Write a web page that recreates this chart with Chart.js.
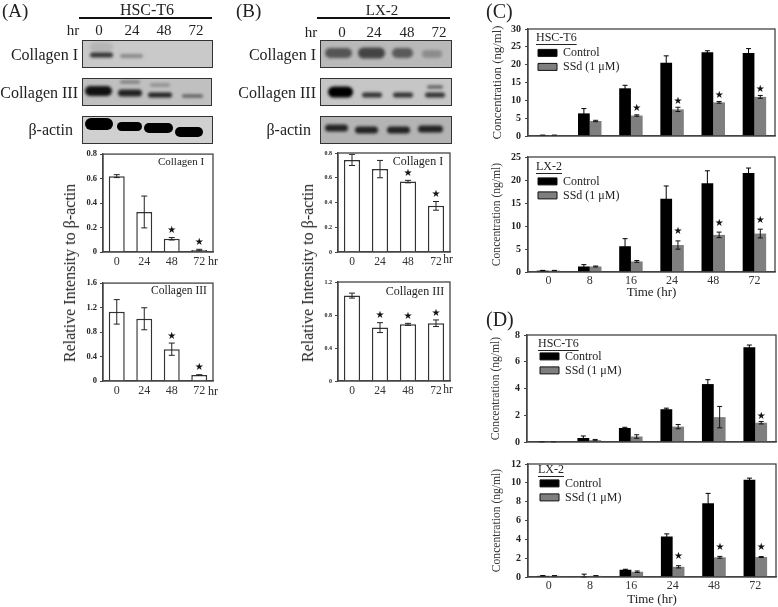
<!DOCTYPE html>
<html>
<head>
<meta charset="utf-8">
<title>Collagen blots and concentrations</title>
<script src="https://cdn.jsdelivr.net/npm/chart.js@4"></script>
<style>
  html, body { margin: 0; padding: 0; background: #fff; }
  #page { position: relative; width: 778px; height: 607px; overflow: hidden; filter: blur(0.45px); }
  #page canvas { position: absolute; }
  .txt { position: absolute; white-space: nowrap; font-family: "Liberation Serif", serif; color: #222; line-height: 1; }
</style>
</head>
<body>
<div id="page"></div>
<script>
// categories
const blotHours = ['0', '24', '48', '72'];
const timePoints = ['0', '8', '16', '24', '48', '72'];

// panel A, relative intensity
const aCol1 = [0.62, 0.327, 0.108, 0.016];
const aCol1Err = [0.012, 0.13, 0.01, 0.006];
const aCol1Star = [false, false, true, true];
const aCol3 = [1.13, 1.017, 0.52, 0.098];
const aCol3Err = [0.2, 0.18, 0.1, 0.004];
const aCol3Star = [false, false, true, true];

// panel B, relative intensity
const bCol1 = [0.744, 0.67, 0.569, 0.373];
const bCol1Err = [0.045, 0.07, 0.01, 0.035];
const bCol1Star = [false, false, true, true];
const bCol3 = [1.035, 0.647, 0.687, 0.70];
const bCol3Err = [0.03, 0.06, 0.012, 0.04];
const bCol3Star = [false, true, true, true];

// panel C, concentration
const cHscControl = [0.2, 6.34, 13.37, 20.57, 23.5, 23.3];
const cHscControlErr = [0.05, 1.35, 0.85, 1.9, 0.4, 1.2];
const cHscSsd = [0.2, 4.2, 5.74, 7.46, 9.43, 10.97];
const cHscSsdErr = [0.05, 0.2, 0.2, 0.6, 0.25, 0.4];
const cHscStar = [false, false, true, true, true, true];
const cLxControl = [0.3, 1.2, 5.6, 15.9, 19.3, 21.5];
const cLxControlErr = [0.05, 0.4, 1.65, 2.8, 2.7, 1.1];
const cLxSsd = [0.3, 1.2, 2.3, 5.86, 8.07, 8.36];
const cLxSsdErr = [0.05, 0.1, 0.2, 0.9, 0.6, 0.95];
const cLxStar = [false, false, false, true, true, true];

// panel D, concentration
const dHscControl = [0.02, 0.3, 1.05, 2.45, 4.33, 7.08];
const dHscControlErr = [0.01, 0.15, 0.05, 0.08, 0.33, 0.17];
const dHscSsd = [0.02, 0.14, 0.41, 1.15, 1.86, 1.44];
const dHscSsdErr = [0.01, 0.05, 0.13, 0.16, 0.8, 0.09];
const dHscStar = [false, false, false, false, false, true];
const dLxControl = [0.12, 0.05, 0.77, 4.3, 7.83, 10.33];
const dLxControlErr = [0.03, 0.25, 0.05, 0.28, 1.05, 0.17];
const dLxSsd = [0.12, 0.12, 0.56, 1.08, 2.09, 2.12];
const dLxSsdErr = [0.03, 0.03, 0.08, 0.12, 0.1, 0.05];
const dLxStar = [false, false, false, true, true, true];

const serif = '"Liberation Serif", serif';
const page = document.getElementById('page');

function addText(str, x, y, size, opts) {
  opts = opts || {};
  const el = document.createElement('div');
  el.className = 'txt';
  el.textContent = str;
  el.style.fontSize = size + 'px';
  el.style.left = x + 'px';
  el.style.top = y + 'px';
  if (opts.color) el.style.color = opts.color;
  const shift = opts.align === 'right' ? '-100%' : opts.align === 'left' ? '0' : '-50%';
  el.style.transform = 'translate(' + shift + ',-50%)' + (opts.rotate ? ' rotate(-90deg)' : '');
  page.appendChild(el);
}

// draws the error whiskers and the significance stars on top of the bars
const barExtras = {
  id: 'barExtras',
  afterDatasetsDraw(chart) {
    const ctx = chart.ctx;
    const y = chart.scales.y;
    chart.data.datasets.forEach((ds, d) => {
      const meta = chart.getDatasetMeta(d);
      meta.data.forEach((bar, i) => {
        const hi = y.getPixelForValue(ds.data[i] + ds.err[i]);
        const lo = y.getPixelForValue(Math.max(0, ds.data[i] - ds.err[i]));
        ctx.save();
        ctx.strokeStyle = ds.whisker;
        ctx.lineWidth = 1;
        ctx.beginPath();
        ctx.moveTo(bar.x, hi);
        ctx.lineTo(bar.x, lo);
        ctx.moveTo(bar.x - ds.cap, hi);
        ctx.lineTo(bar.x + ds.cap, hi);
        ctx.moveTo(bar.x - ds.cap, lo);
        ctx.lineTo(bar.x + ds.cap, lo);
        ctx.stroke();
        if (ds.star && ds.star[i]) {
          ctx.fillStyle = '#111';
          ctx.font = '10px "DejaVu Sans"';
          ctx.textAlign = 'center';
          ctx.textBaseline = 'middle';
          ctx.fillText('★', bar.x, hi - ds.starGap);
        }
        ctx.restore();
      });
    });
  }
};

// frame round the plot, and the legend moved to where the figure has it
const frame = {
  id: 'frame',
  afterLayout(chart) {
    const shift = chart.options.legendShift;
    if (shift) {
      chart.legend.left = chart.chartArea.left + shift[0];
      chart.legend.top = chart.chartArea.top + shift[1];
    }
  },
  afterDraw(chart) {
    const a = chart.chartArea;
    const ctx = chart.ctx;
    ctx.save();
    ctx.strokeStyle = '#444';
    ctx.lineWidth = 1.3;
    ctx.strokeRect(a.left, a.top, a.right - a.left, a.bottom - a.top);
    if (chart.options.legendShift) {
      const lg = chart.legend;
      const t = lg.options.title;
      ctx.font = t.font.size + 'px ' + serif;
      const w = ctx.measureText(t.text).width;
      const yy = lg.top + 12.5;
      ctx.strokeStyle = '#222';
      ctx.lineWidth = 1;
      ctx.beginPath();
      ctx.moveTo(lg.left, yy);
      ctx.lineTo(lg.left + w, yy);
      ctx.stroke();
    }
    ctx.restore();
  }
};

function fmtTick(v) {
  return String(+v.toFixed(1));
}

function plot(box, labels, datasets, cfg) {
  const padTop = 8, padRight = 4;
  const left = box.l - cfg.yWidth;
  const top = box.t - padTop;
  const width = box.r - left + padRight;
  const height = box.b - top + cfg.xHeight;
  const canvas = document.createElement('canvas');
  canvas.width = width;
  canvas.height = height;
  canvas.style.left = left + 'px';
  canvas.style.top = top + 'px';
  page.appendChild(canvas);

  const legend = cfg.legendTitle ? {
    display: true,
    position: 'chartArea',
    align: 'start',
    title: { display: true, position: 'start', text: cfg.legendTitle, color: '#222', font: { family: serif, size: 12 }, padding: { top: 0, bottom: cfg.titleGap } },
    labels: {
      color: '#222',
      font: { family: serif, size: 12 },
      boxWidth: 19,
      boxHeight: 7,
      padding: 2,
      generateLabels(chart) {
        return Chart.defaults.plugins.legend.labels.generateLabels(chart).map(item => {
          item.strokeStyle = '#111';
          item.lineWidth = 1;
          return item;
        });
      }
    }
  } : { display: false };

  if (cfg.starGap) datasets.forEach(ds => { ds.starGap = cfg.starGap; });

  return new Chart(canvas, {
    type: 'bar',
    data: { labels: labels, datasets: datasets },
    plugins: [barExtras, frame],
    options: {
      responsive: false,
      animation: false,
      events: [],
      legendShift: cfg.legendShift,
      layout: { padding: { top: padTop, right: padRight, left: 0, bottom: 0 } },
      plugins: { legend: legend, tooltip: { enabled: false } },
      scales: {
        x: {
          grid: { display: false, drawTicks: false },
          border: { color: '#444', width: 1.3 },
          afterFit(s) { s.height = cfg.xHeight; },
          ticks: { display: cfg.xTicks !== false, color: '#333', font: { family: serif, size: cfg.xFont }, padding: cfg.xPad, maxRotation: 0, autoSkip: false },
          title: cfg.xTitle ? { display: true, text: cfg.xTitle, color: '#222', font: { family: serif, size: 13 }, padding: { top: 0, bottom: 2 } } : { display: false }
        },
        y: {
          min: 0,
          max: cfg.max,
          afterFit(s) { s.width = cfg.yWidth; },
          grid: { drawOnChartArea: false, color: '#444', tickLength: 3 },
          border: { color: '#444', width: 1.3 },
          ticks: { stepSize: cfg.step, color: '#222', font: { family: serif, size: cfg.yFont, weight: 'bold' }, padding: cfg.yPad, callback: fmtTick },
          title: cfg.yTitle ? { display: true, text: cfg.yTitle, color: '#333', font: { family: serif, size: cfg.yTitleSize }, padding: 0 } : { display: false }
        }
      }
    }
  });
}

function whiteBars(values, err, star) {
  return [{
    label: 'Relative intensity',
    data: values, err: err, star: star,
    backgroundColor: '#fff',
    borderColor: '#333',
    borderWidth: 1.5,
    categoryPercentage: 1,
    barPercentage: 0.58,
    whisker: '#222', cap: 3, starGap: 7
  }];
}

function pairBars(control, controlErr, ssd, ssdErr, star) {
  return [{
    label: 'Control',
    data: control, err: controlErr,
    backgroundColor: '#000',
    borderWidth: 0,
    categoryPercentage: 0.57,
    barPercentage: 1,
    whisker: '#000', cap: 2.5, starGap: 9
  }, {
    label: 'SSd (1 μM)',
    data: ssd, err: ssdErr, star: star,
    backgroundColor: '#7f7f7f',
    borderWidth: 0,
    categoryPercentage: 0.57,
    barPercentage: 1,
    whisker: '#111', cap: 2.5, starGap: 9
  }];
}

const smallA = { yWidth: 30, xHeight: 20, xFont: 12, xPad: 3, yFont: 8.5, yPad: 3 };
const smallB = { yWidth: 30, xHeight: 20, xFont: 11.5, xPad: 3, yFont: 6, yPad: 3 };
const wide = { yWidth: 38, xFont: 12, xPad: 2, yFont: 10, yPad: 4, yTitle: 'Concentration (ng/ml)' };

plot({ l: 103, r: 213, t: 154, b: 252 }, blotHours, whiteBars(aCol1, aCol1Err, aCol1Star), { ...smallA, max: 0.8, step: 0.2 });
plot({ l: 103, r: 213, t: 283, b: 381 }, blotHours, whiteBars(aCol3, aCol3Err, aCol3Star), { ...smallA, max: 1.6, step: 0.4 });
plot({ l: 338, r: 450, t: 153, b: 252 }, blotHours, whiteBars(bCol1, bCol1Err, bCol1Star), { ...smallB, max: 0.8, step: 0.2 });
plot({ l: 338, r: 450, t: 282, b: 381 }, blotHours, whiteBars(bCol3, bCol3Err, bCol3Star), { ...smallB, max: 1.2, step: 0.4 });

plot({ l: 528, r: 775, t: 27, b: 144 }, timePoints, pairBars(cHscControl, cHscControlErr, cHscSsd, cHscSsdErr, cHscStar),
  { ...wide, xHeight: 2, xTicks: false, max: 30, step: 5, yTitleSize: 12.8, legendTitle: 'HSC-T6', legendShift: [8, 3], titleGap: -1.5, starGap: 6 });
plot({ l: 528, r: 775, t: 155, b: 272 }, timePoints, pairBars(cLxControl, cLxControlErr, cLxSsd, cLxSsdErr, cLxStar),
  { ...wide, xHeight: 30, xTitle: 'Time (hr)', max: 25, step: 5, yTitleSize: 11.6, legendTitle: 'LX-2', legendShift: [8, 4], titleGap: -2 });
plot({ l: 527, r: 776, t: 333, b: 450 }, timePoints, pairBars(dHscControl, dHscControlErr, dHscSsd, dHscSsdErr, dHscStar),
  { ...wide, xHeight: 2, xTicks: false, max: 8, step: 2, yTitleSize: 11.6, legendTitle: 'HSC-T6', legendShift: [11, 3], titleGap: -4, starGap: 5 });
plot({ l: 528, r: 776, t: 462, b: 577 }, timePoints, pairBars(dLxControl, dLxControlErr, dLxSsd, dLxSsdErr, dLxStar),
  { ...wide, xHeight: 32, xTitle: 'Time (hr)', max: 12, step: 2, yTitleSize: 11.6, legendTitle: 'LX-2', legendShift: [10, 0], titleGap: -3 });

// western blot strips, these are pictures and carry no chart values
const strips = [
  { x: 82, y: 40, w: 130, h: 27, bg: '#c9c9c9', bands: [[90, 113, 47, 10, '#b6b6b6'], [90, 113, 55, 5, '#333'], [120, 143, 56, 4, '#8a8a8a']] },
  { x: 82, y: 78, w: 129, h: 27, bg: '#c0c0c0', bands: [[85, 112, 91, 10, '#111'], [118, 142, 93, 7, '#222'], [120, 140, 82, 3, '#777'], [148, 172, 95, 5, '#222'], [150, 170, 85, 3, '#888'], [182, 203, 96, 3, '#555']] },
  { x: 82, y: 116, w: 130, h: 27, bg: '#d0d0d0', sharp: true, bands: [[85, 113, 124, 12, '#000'], [117, 142, 126.5, 9, '#000'], [144, 173, 128, 10, '#000'], [175, 203, 132, 10, '#000']] },
  { x: 320, y: 40, w: 131, h: 27, bg: '#b9b9b9', bands: [[325, 352, 53, 10, '#555'], [358, 385, 53, 11, '#444'], [392, 413, 53, 10, '#5a5a5a'], [422, 442, 54, 8, '#8c8c8c']] },
  { x: 320, y: 78, w: 131, h: 27, bg: '#c6c6c6', bands: [[328, 353, 92, 11, '#000'], [362, 382, 95, 5, '#333'], [393, 413, 95, 5, '#333'], [425, 445, 95, 5, '#333'], [427, 443, 87, 3, '#555']] },
  { x: 320, y: 116, w: 131, h: 27, bg: '#b4b4b4', bands: [[325, 348, 128, 7, '#222'], [355, 378, 130, 7, '#222'], [387, 410, 130, 7, '#222'], [418, 443, 129, 7, '#222']] }
];
const blotCanvas = document.createElement('canvas');
blotCanvas.width = 778;
blotCanvas.height = 200;
page.appendChild(blotCanvas);
const bctx = blotCanvas.getContext('2d');
strips.forEach(s => {
  bctx.save();
  bctx.beginPath();
  bctx.rect(s.x, s.y, s.w, s.h);
  bctx.clip();
  bctx.fillStyle = s.bg;
  bctx.fillRect(s.x, s.y, s.w, s.h);
  s.bands.forEach(b => {
    bctx.filter = s.sharp ? 'blur(0.7px)' : 'blur(1.4px)';
    bctx.fillStyle = b[4];
    bctx.beginPath();
    bctx.roundRect(b[0], b[2] - b[3] / 2, b[1] - b[0], b[3], b[3] / 2);
    bctx.fill();
  });
  bctx.restore();
  bctx.strokeStyle = '#333';
  bctx.lineWidth = 1;
  bctx.strokeRect(s.x + 0.5, s.y + 0.5, s.w, s.h);
});
bctx.fillStyle = '#111';
bctx.fillRect(79, 17, 133, 2);
bctx.fillRect(317, 17, 133, 2);

// panel letters and headings
addText('(A)', 2, 10, 19, { align: 'left' });
addText('(B)', 236, 10, 19, { align: 'left' });
addText('(C)', 486, 11, 20, { align: 'left' });
addText('(D)', 486, 319, 20, { align: 'left' });
addText('HSC-T6', 147, 10, 16);
addText('LX-2', 382, 10, 15);

addText('hr', 73, 30, 15);
[[99, '0'], [132, '24'], [164, '48'], [196, '72']].forEach(t => addText(t[1], t[0], 30, 15));
addText('hr', 311, 32, 15);
[[342, '0'], [374, '24'], [407, '48'], [439, '72']].forEach(t => addText(t[1], t[0], 32, 15));

addText('Collagen I', 78, 55, 16, { align: 'right' });
addText('Collagen III', 78, 93, 16, { align: 'right' });
addText('β-actin', 73, 130, 16, { align: 'right' });
addText('Collagen I', 316, 55, 16, { align: 'right' });
addText('Collagen III', 316, 93, 16, { align: 'right' });
addText('β-actin', 311, 130, 16, { align: 'right' });

addText('Collagen I', 181, 161, 11);
addText('Collagen III', 179, 291, 11.5);
addText('Collagen I', 418, 161, 12);
addText('Collagen III', 415, 291, 12);

addText('hr', 213, 261, 12);
addText('hr', 213, 391, 12);
addText('hr', 448, 260, 11.5);
addText('hr', 448, 390, 11.5);

addText('Relative Intensity to β-actin', 70, 273, 16, { rotate: true });
addText('Relative Intensity to β-actin', 308, 273, 16, { rotate: true });
</script>
</body>
</html>
